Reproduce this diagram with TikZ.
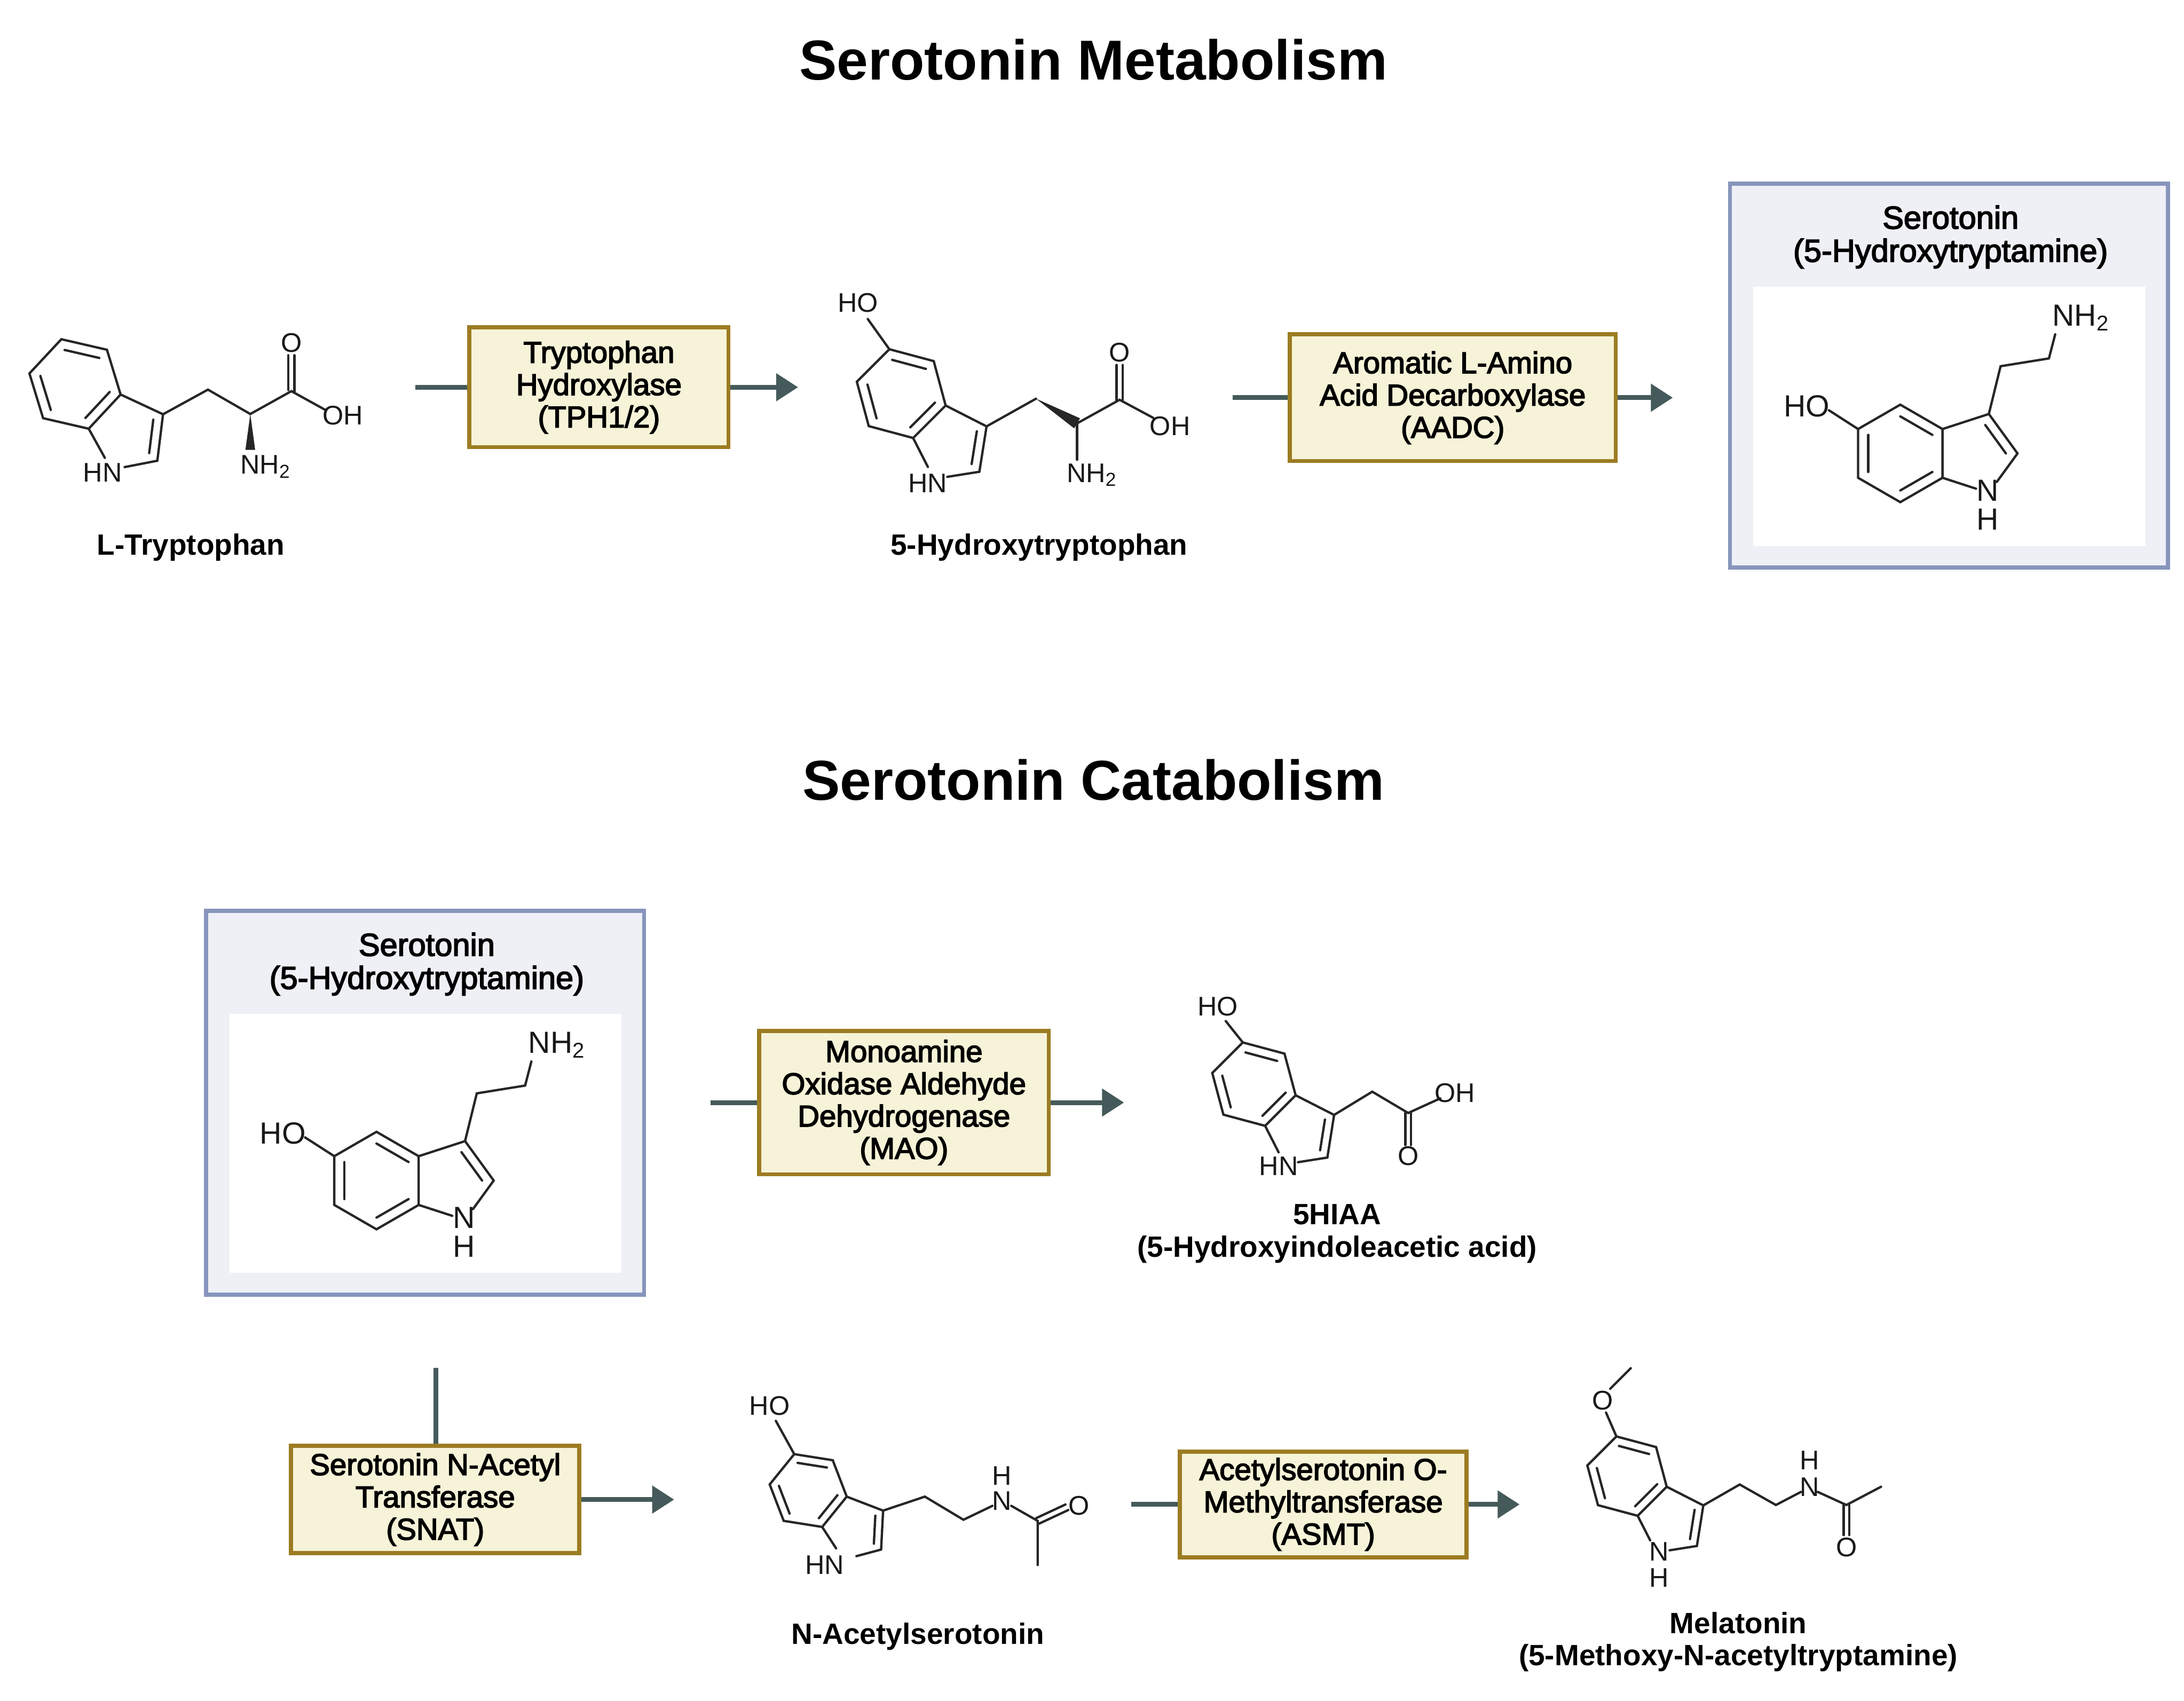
\documentclass[tikz,border=0pt]{standalone}
\usepackage{fontspec}
\setmainfont{Liberation Sans}
\newfontfamily\medfam{Liberation Sans}[FakeBold=3]
\newcommand{\medf}{\medfam}
\usetikzlibrary{calc,arrows.meta}
\definecolor{arrc}{HTML}{455A5A}
\definecolor{enzb}{HTML}{9C7C22}
\definecolor{enzf}{HTML}{F6F3D8}
\definecolor{sbb}{HTML}{8795BC}
\definecolor{sbf}{HTML}{EEF0F6}
\tikzset{
 bond/.style={line width=0.95pt, black!85, line cap=round},
 atom/.style={font=\fontsize{11}{12}\selectfont, inner sep=0pt, text=black!90},
 batom/.style={font=\fontsize{12.5}{14}\selectfont, inner sep=0pt, text=black!90},
 lbl/.style={font=\bfseries\fontsize{12}{14}\selectfont, inner sep=0pt},
 ttl/.style={font=\bfseries\fontsize{23}{27}\selectfont, inner sep=0pt},
 enz/.style={draw=enzb, fill=enzf, line width=1.7pt, align=center, inner sep=0pt,
   font=\medf\fontsize{12.3}{13.2}\selectfont},
 sbox/.style={draw=sbb, fill=sbf, line width=1.7pt, minimum width=6.29cm, minimum height=5.51cm, inner sep=0pt},
 stxt/.style={font=\medf\fontsize{13}{15}\selectfont, inner sep=0pt},
 conn/.style={arrc, line width=2pt},
 arr/.style={arrc, line width=2pt, -{Triangle[length=9pt,width=11pt]}},
}
\newcommand{\indskel}{%
  \coordinate (-c3a) at (0,0); \coordinate (-c7a) at (0,-1);
  \coordinate (-c4) at (-0.866,0.5); \coordinate (-c5) at (-1.732,0);
  \coordinate (-c6) at (-1.732,-1); \coordinate (-c7) at (-0.866,-1.5);
  \coordinate (-c3) at (0.951,0.309); \coordinate (-c2) at (1.539,-0.5);
  \coordinate (-n) at (0.951,-1.309);
  \draw[bond] (0,0)--(-0.866,0.5)--(-1.732,0)--(-1.732,-1)--(-0.866,-1.5)--(0,-1)--cycle;
  \draw[bond] (0,0)--(0.951,0.309)--(1.539,-0.5);
  \draw[bond, shorten >=5.5pt] (1.539,-0.5)--(0.951,-1.309);
  \draw[bond, shorten >=5.5pt] (0,-1)--(0.951,-1.309);
  \draw[bond] ($(0.688,-0.5)!0.72!(0.951,0.309)$)--($(0.688,-0.5)!0.72!(1.539,-0.5)$);
}
\newcommand{\dbh}[4]{\draw[bond] ($(-0.866,-0.5)!0.76!(#1,#2)$)--($(-0.866,-0.5)!0.76!(#3,#4)$);}
\tikzset{
 indA/.pic={\indskel
   \dbh{0}{0}{-0.866}{0.5}\dbh{-1.732}{0}{-1.732}{-1}\dbh{-0.866}{-1.5}{0}{-1}},
 indB/.pic={\indskel
   \dbh{-0.866}{0.5}{-1.732}{0}\dbh{-1.732}{-1}{-0.866}{-1.5}\dbh{0}{0}{0}{-1}},
}
\begin{document}
\begin{tikzpicture}[x=0.02cm,y=-0.02cm]
\useasboundingbox (0,0) rectangle (1568,1221);
\fill[white] (0,0) rectangle (1568,1221);

% titles
\node[ttl] (t1) at (785,43) {Serotonin Metabolism};
\node[ttl] (t2) at (785,560) {Serotonin Catabolism};

% ---------- L-Tryptophan
\begin{scope}[shift={(86.6,283.2)}]
 \pic[rotate=-43,x=0.672cm,y=0.672cm] (t) {indB};
\end{scope}
\coordinate (tch2) at (149.3,279.7); \coordinate (tca) at (179.7,297.2); \coordinate (tc) at (209.2,280.8);
\draw[bond] (t-c3)--(tch2)--(tca)--(tc)--(234,294.5);
\draw[bond] (207,280)--(207,255) (211.4,281)--(211.4,255);
\fill[black!85] (tca)--(176.2,323)--(183.2,323)--cycle;
\node[atom] at (209.2,246) {O};
\node[atom] at (246,298.4) {OH};
\node[atom] at (190.7,335) {NH\textsubscript{2}};
\node[atom] at (73.7,339.2) {HN};
\node[lbl] (ltrp) at (137,393) {L-Tryptophan};

% ---------- 5-Hydroxytryptophan
\begin{scope}[shift={(678.9,291.1)}]
 \pic[rotate=-45,x=0.66cm,y=0.66cm] (h) {indB};
\end{scope}
\draw[bond] (h-c5)--(623,229);
\coordinate (hch2) at (743.8,286.2); \coordinate (hca) at (773.3,303.9); \coordinate (hc) at (803.8,287);
\draw[bond] (h-c3)--(hch2);
\fill[black!85] (hch2)--(775.4,300.3)--(771.2,307.5)--cycle;
\draw[bond] (hca)--(hc)--(828,300);
\draw[bond] (801.6,288)--(801.6,262) (806,288)--(806,262);
\draw[bond] (hca)--(773.3,330);
\node[atom] at (616,217.4) {HO};
\node[atom] at (803.8,253) {O};
\node[atom] at (840,306) {OH};
\node[atom] at (784,341) {NH\textsubscript{2}};
\node[atom] at (666,347) {HN};
\node[lbl] (lhtp) at (746,393) {5-Hydroxytryptophan};

% ---------- Serotonin boxes
\foreach \nm/\sx/\sy in {sa/0/0, sb/-1094/522}{
 \begin{scope}[shift={(\sx,\sy)}]
  \node[sbox] (\nm) at (1399.2,269.7) {};
  \fill[white] (1258.7,205.7) rectangle (1540.3,391.9);
  \node[stxt] at (1400.4,156) {Serotonin};
  \node[stxt] at (1400.4,182) {(5-Hydroxytryptamine)};
  \begin{scope}[shift={(1394.6,308)}]
   \pic[x=0.7cm,y=0.7cm] (\nm i) {indA};
  \end{scope}
  \draw[bond] (\nm i-c3)--(1436.3,262.9)--(1471,257.3)--(1475.5,240);
  \draw[bond] (\nm i-c5)--(1313,294.5);
  \node[batom] at (1297,291.5) {HO};
  \node[batom] at (1494,228) {NH\textsubscript{2}};
  \node[batom] at (1427,352) {N};
  \node[batom] at (1427,373) {H};
 \end{scope}
}

% ---------- 5HIAA
\begin{scope}[shift={(930.2,786.3)}]
 \pic[rotate=-45,x=0.62cm,y=0.62cm] (a) {indB};
\end{scope}
\draw[bond] (a-c5)--(880,733);
\draw[bond] (a-c3)--(985.2,783.7)--(1011,799)--(1034,788.5);
\draw[bond] (1009,799)--(1009,822) (1013,799)--(1013,822);
\node[atom] at (874.3,722.6) {HO};
\node[atom] at (1044.5,784.6) {OH};
\node[atom] at (1011,830) {O};
\node[atom] at (918,837) {HN};
\node[lbl] (l5h) at (960,872) {5HIAA};
\node[lbl] at (960,897) {(5-Hydroxyindoleacetic acid)};

% ---------- N-Acetylserotonin
\begin{scope}[shift={(607.9,1074.4)}]
 \pic[rotate=-39,x=0.56cm,y=0.56cm] (n) {indB};
\end{scope}
\draw[bond] (n-c5)--(557,1020);
\draw[bond] (n-c3)--(664,1074.4)--(691.7,1091)--(712.5,1081);
\draw[bond] (726,1081)--(745,1091.8)--(745,1123.5);
\draw[bond] (744,1089.8)--(765,1080) (746,1093.8)--(767,1084);
\node[atom] at (552.6,1009.3) {HO};
\node[atom] at (719.4,1077.5) {N};
\node[atom] at (719.4,1059.3) {H};
\node[atom] at (774.6,1080.7) {O};
\node[atom] at (592,1123.5) {HN};
\node[lbl] (lnas) at (659,1175) {N-Acetylserotonin};

% ---------- Melatonin
\begin{scope}[shift={(1196.6,1067.3)}]
 \pic[rotate=-45,x=0.59cm,y=0.59cm] (m) {indB};
\end{scope}
\draw[bond] (m-c5)--(1153,1014);
\draw[bond] (1156,997)--(1170.8,982.2);
\draw[bond] (m-c3)--(1249,1065.7)--(1275,1080.4)--(1293,1071);
\draw[bond] (1305,1071)--(1325.6,1080.4)--(1350.5,1067.3);
\draw[bond] (1323.6,1080.4)--(1323.6,1102) (1327.6,1080.4)--(1327.6,1102);
\node[atom] at (1150.6,1005.2) {O};
\node[atom] at (1191,1114) {N};
\node[atom] at (1191,1132.7) {H};
\node[atom] at (1299,1067.3) {N};
\node[atom] at (1299,1048.5) {H};
\node[atom] at (1325.6,1110.7) {O};
\node[lbl] (lmel) at (1248,1165) {Melatonin};
\node[lbl] at (1248,1190) {(5-Methoxy-N-acetyltryptamine)};

% ---------- enzymes & arrows
\node[enz, minimum width=3.72cm, minimum height=1.72cm] (tph) at (430,278) {Tryptophan\\Hydroxylase\\(TPH1/2)};
\node[enz, minimum width=4.68cm, minimum height=1.82cm] (aadc) at (1043,285.5) {Aromatic L-Amino\\Acid Decarboxylase\\(AADC)};
\node[enz, minimum width=4.16cm, minimum height=2.06cm] (mao) at (649,791.5) {Monoamine\\Oxidase Aldehyde\\Dehydrogenase\\(MAO)};
\node[enz, minimum width=4.14cm, minimum height=1.54cm] (snat) at (312.5,1076.5) {Serotonin N-Acetyl\\Transferase\\(SNAT)};
\node[enz, minimum width=4.12cm, minimum height=1.52cm] (asmt) at (950,1080) {Acetylserotonin O-\\Methyltransferase\\(ASMT)};

\coordinate (a1s) at (298,278); \coordinate (a1e) at (573,278);
\coordinate (a2s) at (885,285.5); \coordinate (a2e) at (1201,285.5);
\coordinate (a3s) at (510,791.5); \coordinate (a3e) at (807,791.5);
\coordinate (a4s) at (313,982); \coordinate (a4e) at (484,1076.5);
\coordinate (a5s) at (812,1080); \coordinate (a5e) at (1091,1080);
\draw[conn] (a1s)--(tph.west); \draw[arr] (tph.east)--(a1e);
\draw[conn] (a2s)--(aadc.west); \draw[arr] (aadc.east)--(a2e);
\draw[conn] (a3s)--(mao.west); \draw[arr] (mao.east)--(a3e);
\draw[conn] (a4s)--(a4s|-snat.north); \draw[arr] (snat.east)--(a4e);
\draw[conn] (a5s)--(asmt.west); \draw[arr] (asmt.east)--(a5e);
\end{tikzpicture}
\end{document}
